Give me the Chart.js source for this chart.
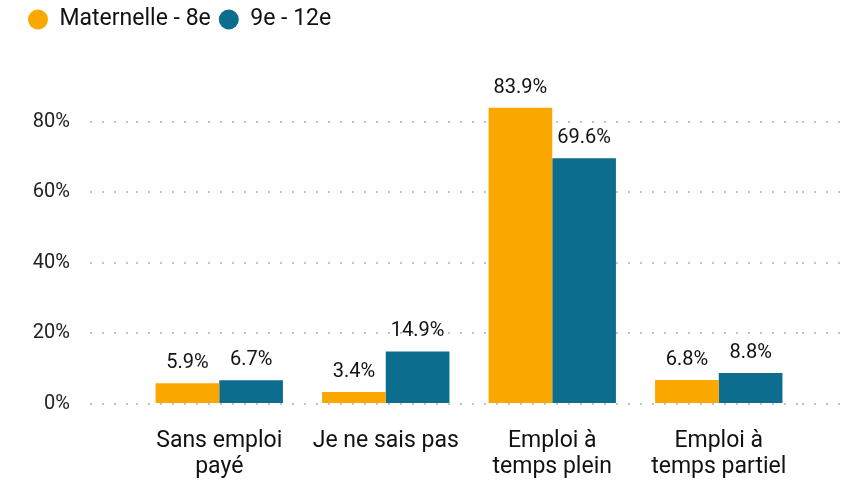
<!DOCTYPE html>
<html lang="fr">
<head>
<meta charset="UTF-8">
<title>Emploi</title>
<script src="https://cdn.jsdelivr.net/npm/chart.js"></script>
<style>
  body { margin: 0; background: #fff; }
  #wrap { width: 854px; height: 482px; }
</style>
</head>
<body>
<div id="wrap"><canvas id="chart"></canvas></div>
<script>
const categories = [['Sans emploi', 'payé'], 'Je ne sais pas', ['Emploi à', 'temps plein'], ['Emploi à', 'temps partiel']];
const maternelle8e = [5.9, 3.4, 83.9, 6.8];
const secondaire9e12e = [6.7, 14.9, 69.6, 8.8];
const seriesNames = ['Maternelle - 8e', '9e - 12e'];
const yTicks = [0, 20, 40, 60, 80];

const FONT = 'Roboto, "DejaVu Sans", sans-serif';

// valeurs au-dessus des barres
const valueLabels = {
  id: 'valueLabels',
  afterDatasetsDraw(chart) {
    const ctx = chart.ctx;
    ctx.save();
    ctx.font = '20px ' + FONT;
    ctx.fillStyle = '#111';
    ctx.textAlign = 'center';
    ctx.textBaseline = 'alphabetic';
    chart.data.datasets.forEach((ds, i) => {
      chart.getDatasetMeta(i).data.forEach((bar, j) => {
        ctx.fillText(ds.data[j].toFixed(1) + '%', bar.x, bar.y - 15);
      });
    });
    ctx.restore();
  }
};

// espace sous la légende
const legendGap = {
  id: 'legendGap',
  beforeInit(chart) {
    const fit = chart.legend.fit;
    chart.legend.fit = function () {
      fit.bind(this)();
      this.height += 10;
    };
  }
};

const gridStyle = {
  color: '#bfc3cc',
  lineWidth: 2,
  tickBorderDash: [2, 10],
  tickColor: '#bfc3cc',
  tickWidth: 2,
  drawOnChartArea: true
};

new Chart(document.getElementById('chart'), {
  type: 'bar',
  data: {
    labels: categories,
    datasets: [
      { label: seriesNames[0], data: maternelle8e, backgroundColor: '#FAA700' },
      { label: seriesNames[1], data: secondaire9e12e, backgroundColor: '#0C6D8F' }
    ]
  },
  options: {
    responsive: true,
    maintainAspectRatio: false,
    animation: false,
    layout: { padding: { left: 20, right: 8, top: 0, bottom: 2 } },
    datasets: { bar: { categoryPercentage: 0.765, barPercentage: 1.0 } },
    plugins: {
      tooltip: { enabled: false },
      legend: {
        position: 'top',
        align: 'start',
        labels: {
          usePointStyle: true,
          pointStyle: 'circle',
          pointStyleWidth: 20,
          boxHeight: 14,
          padding: 8,
          color: '#111',
          font: { family: FONT, size: 23 }
        }
      }
    },
    scales: {
      x: {
        grid: { display: false },
        border: { display: false },
        afterFit(scale) { scale.height = 76; },
        ticks: {
          color: '#111',
          padding: 17,
          maxRotation: 0,
          autoSkip: false,
          font: { family: FONT, size: 23, lineHeight: 1.1 }
        }
      },
      y: {
        min: 0,
        max: 100,
        afterBuildTicks(scale) {
          scale.ticks = yTicks.map(v => ({ value: v }));
        },
        afterFit(scale) { scale.width = 116; },
        border: { display: false, dash: [2, 10] },
        grid: Object.assign({ tickLength: 46 }, gridStyle),
        ticks: {
          color: '#222',
          padding: 20,
          font: { family: FONT, size: 20 },
          callback: v => v + '%'
        }
      },
      y2: {
        position: 'right',
        min: 0,
        max: 100,
        afterBuildTicks(scale) {
          scale.ticks = yTicks.map(v => ({ value: v }));
        },
        afterFit(scale) { scale.width = 44; },
        border: { display: false, dash: [2, 10] },
        grid: Object.assign({ tickLength: 44 }, gridStyle),
        ticks: { display: false }
      }
    }
  },
  plugins: [valueLabels, legendGap]
});
</script>
</body>
</html>
